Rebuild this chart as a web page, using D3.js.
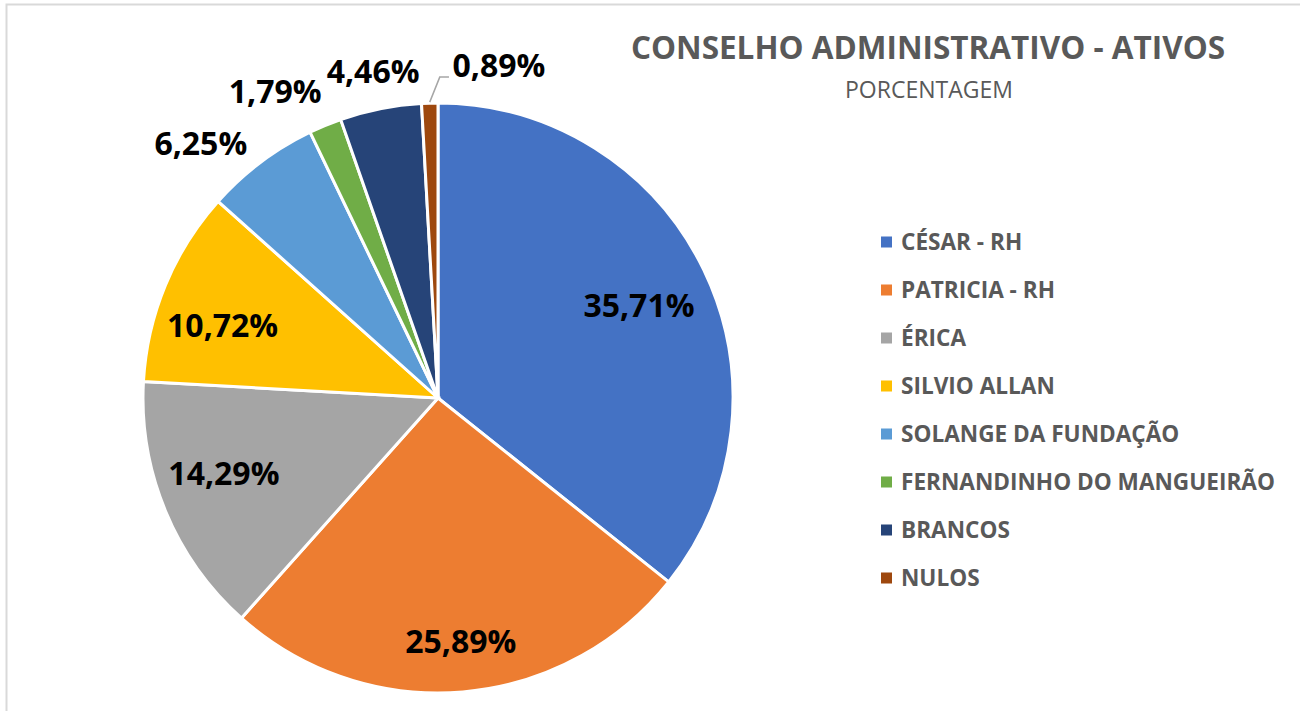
<!DOCTYPE html>
<html>
<head>
<meta charset="utf-8">
<script src="https://cdn.jsdelivr.net/npm/d3@7"></script>
<style>
  body { margin: 0; background: #fff; }
  text { font-family: "Open Sans", sans-serif; }
</style>
</head>
<body>
<script>
const categories = ["CÉSAR - RH", "PATRICIA - RH", "ÉRICA", "SILVIO ALLAN",
  "SOLANGE DA FUNDAÇÃO", "FERNANDINHO DO MANGUEIRÃO", "BRANCOS", "NULOS"];
const values = [35.71, 25.89, 14.29, 10.72, 6.25, 1.79, 4.46, 0.89];
const labels = ["35,71%", "25,89%", "14,29%", "10,72%", "6,25%", "1,79%", "4,46%", "0,89%"];
const colors = ["#4472C4", "#ED7D31", "#A5A5A5", "#FFC000", "#5B9BD5", "#70AD47", "#264478", "#9E480E"];

const width = 1300, height = 711;
const cx = 438, cy = 398, radius = 295;

// label placement: [radius factor, angle shift in degrees] (Excel "best fit" look)
const labelSpot = [[0.75, 1], [0.83, -0.5], [0.77, 3], [0.77, -4],
  [1.18, -6], [1.176, -5.5], [1.13, 0], [1.145, 12]];

const svg = d3.select("body").append("svg")
  .attr("width", width)
  .attr("height", height);

svg.append("rect")
  .attr("x", 6.5).attr("y", 4.5)
  .attr("width", width).attr("height", height)
  .attr("fill", "none")
  .attr("stroke", "#d9d9d9")
  .attr("stroke-width", 2);

const data = categories.map((c, i) => ({ name: c, value: values[i], label: labels[i], color: colors[i] }));

const pie = d3.pie().sort(null).value(d => d.value);
const arcs = pie(data);
const arc = d3.arc().innerRadius(0).outerRadius(radius);

const g = svg.append("g").attr("transform", `translate(${cx},${cy})`);

g.selectAll("path")
  .data(arcs)
  .enter()
  .append("path")
  .attr("d", arc)
  .attr("fill", d => d.data.color)
  .attr("stroke", "#fff")
  .attr("stroke-width", 3);

function labelPoint(d, i) {
  const [k, shift] = labelSpot[i];
  const a = (d.startAngle + d.endAngle) / 2 + shift * Math.PI / 180;
  return [Math.sin(a) * radius * k, -Math.cos(a) * radius * k];
}

// leader line for the small last slice
const last = arcs[arcs.length - 1];
const lastMid = (last.startAngle + last.endAngle) / 2;
const lp = labelPoint(last, arcs.length - 1);
g.append("path")
  .attr("d", d3.line()([
    [Math.sin(lastMid) * (radius + 1), -Math.cos(lastMid) * (radius + 1)],
    [Math.sin(lastMid) * radius + 10, -Math.cos(lastMid) * radius - 26],
    [lp[0] - 50, -Math.cos(lastMid) * radius - 26]
  ]))
  .attr("fill", "none")
  .attr("stroke", "#a6a6a6")
  .attr("stroke-width", 1.5);

g.selectAll(".lbl")
  .data(arcs)
  .enter()
  .append("text")
  .attr("class", "lbl")
  .attr("x", (d, i) => labelPoint(d, i)[0])
  .attr("y", (d, i) => labelPoint(d, i)[1])
  .attr("text-anchor", "middle")
  .attr("dy", "0.36em")
  .attr("font-size", 32)
  .attr("font-weight", "bold")
  .attr("fill", "#000")
  .text(d => d.data.label);

// title
svg.append("text")
  .attr("x", 928).attr("y", 59)
  .attr("text-anchor", "middle")
  .attr("font-size", 31.5)
  .attr("font-weight", "bold")
  .attr("fill", "#595959")
  .text("CONSELHO ADMINISTRATIVO - ATIVOS");

svg.append("text")
  .attr("x", 929).attr("y", 98)
  .attr("text-anchor", "middle")
  .attr("font-size", 23)
  .attr("fill", "#595959")
  .text("PORCENTAGEM");

// legend
const yLegend = d3.scalePoint().domain(categories).range([242, 578]);
const legend = svg.append("g");
const item = legend.selectAll("g")
  .data(data)
  .enter()
  .append("g")
  .attr("transform", d => `translate(881,${yLegend(d.name)})`);
item.append("rect")
  .attr("x", 0).attr("y", -5.5)
  .attr("width", 11).attr("height", 11)
  .attr("fill", d => d.color);
item.append("text")
  .attr("x", 20)
  .attr("dy", "0.36em")
  .attr("font-size", 22.6)
  .attr("font-weight", "bold")
  .attr("fill", "#595959")
  .text(d => d.name);
</script>
</body>
</html>
